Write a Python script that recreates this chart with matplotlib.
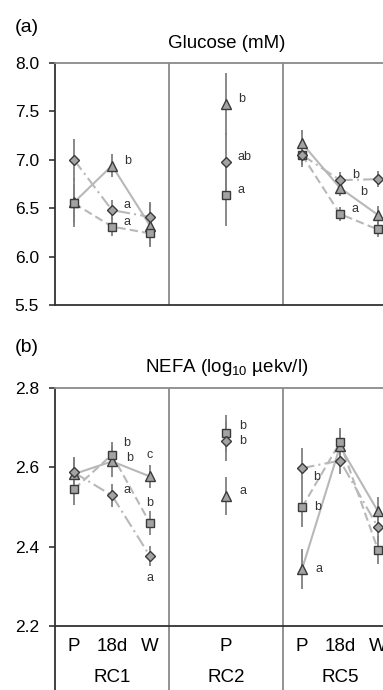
import numpy as np
import matplotlib.pyplot as plt
import matplotlib.transforms as mtransforms

plt.rcParams["font.family"] = ["Liberation Sans", "DejaVu Sans"]
plt.rcParams["mathtext.fontset"] = "custom"
plt.rcParams["mathtext.rm"] = "Liberation Sans"
plt.rcParams["mathtext.it"] = "Liberation Sans"

# positions: RC1 P,18d,W | RC2 P | RC5 P,18d,W
time_labels = ["P", "18d", "W", "P", "P", "18d", "W"]
group_labels = ["RC1", "RC2", "RC5"]

# Glucose (mM)
glu_tri = [6.56, 6.94, 6.32, 7.58, 7.17, 6.71, 6.43]
glu_tri_err = [0.25, 0.12, 0.22, 0.32, 0.14, 0.08, 0.09]
glu_sq = [6.55, 6.31, 6.24, 6.64, 7.05, 6.44, 6.28]
glu_sq_err = [0.20, 0.10, 0.13, 0.32, 0.12, 0.07, 0.08]
glu_dia = [7.00, 6.48, 6.41, 6.98, 7.05, 6.79, 6.80]
glu_dia_err = [0.22, 0.10, 0.15, 0.30, 0.10, 0.08, 0.08]
glu_tri_let = ["", "b", "", "b", "", "b", "a"]
glu_sq_let = ["", "a", "", "a", "", "a", "a"]
glu_dia_let = ["", "a", "", "ab", "", "b", "b"]

# NEFA (log10 uekv/l)
nefa_tri = [2.583, 2.615, 2.577, 2.528, 2.343, 2.653, 2.489]
nefa_tri_err = [0.04, 0.04, 0.028, 0.048, 0.05, 0.04, 0.035]
nefa_sq = [2.545, 2.632, 2.459, 2.686, 2.499, 2.663, 2.392]
nefa_sq_err = [0.04, 0.032, 0.03, 0.047, 0.05, 0.035, 0.035]
nefa_dia = [2.587, 2.529, 2.376, 2.667, 2.598, 2.617, 2.449]
nefa_dia_err = [0.04, 0.03, 0.025, 0.05, 0.05, 0.035, 0.035]
nefa_tri_let = ["", "b", "c", "a", "a", "", ""]
nefa_sq_let = ["", "b", "b", "b", "b", "", ""]
nefa_dia_let = ["", "a", "a", "b", "b", "", ""]

xpos = np.array([0.5, 1.5, 2.5, 4.5, 6.5, 7.5, 8.5])
groups = [[0, 1, 2], [3], [4, 5, 6]]

LINE = "#b8b8b8"
ERR = "#808080"
FILL = "#a3a3a3"
EDGE = "#3a3a3a"
SEP = "#8a8a8a"

W, H = 383, 690
fig = plt.figure(figsize=(W / 100, H / 100), dpi=100)


def px_axes(left, top, right, bottom):
    return fig.add_axes([left / W, 1 - bottom / H, (right - left) / W, (bottom - top) / H])


def draw_series(ax, vals, errs, letters, marker, ms, ls, offsets):
    vals = np.array(vals)
    for g in groups:
        if len(g) > 1:
            ax.plot(xpos[g], vals[g], color=LINE, lw=1.5, ls=ls, zorder=2)
    ax.errorbar(xpos, vals, yerr=errs, fmt="none", ecolor=ERR, elinewidth=1.3, zorder=3)
    ax.plot(xpos, vals, ls="none", marker=marker, ms=ms, mfc=FILL, mec=EDGE, mew=1.0, zorder=4)
    for i, t in enumerate(letters):
        if t:
            dx, dy = offsets.get(i, (12, 5))
            ax.annotate(t, (xpos[i], vals[i]), xytext=(dx, dy), textcoords="offset pixels",
                        fontsize=9, ha="left" if dx > 3 else "center", va="center",
                        color="#333333", annotation_clip=False)


def style_axes(ax, ylim, yticks):
    ax.set_xlim(0, 9)
    ax.set_ylim(*ylim)
    ax.set_yticks(yticks)
    ax.set_yticklabels(["%.1f" % v for v in yticks], fontsize=12.5)
    ax.set_xticks([])
    ax.tick_params(axis="y", direction="out", length=4.5, width=1.2, color="#333333", pad=7)
    ax.spines["left"].set_color("#333333")
    ax.spines["left"].set_linewidth(1.3)
    ax.spines["bottom"].set_color("#333333")
    ax.spines["bottom"].set_linewidth(1.3)
    ax.spines["top"].set_color(SEP)
    ax.spines["top"].set_linewidth(1.3)
    ax.spines["right"].set_visible(False)
    for xs in (3, 6):
        ax.axvline(xs, color=SEP, lw=1.3, zorder=1)


# (a) Glucose
ax1 = px_axes(55, 63, 397, 305)
style_axes(ax1, (5.5, 8.0), [5.5, 6.0, 6.5, 7.0, 7.5, 8.0])
draw_series(ax1, glu_tri, glu_tri_err, glu_tri_let, "^", 7.5, "-", {5: (20, -4)})
draw_series(ax1, glu_sq, glu_sq_err, glu_sq_let, "s", 5.5, (0, (4, 2)), {})
draw_series(ax1, glu_dia, glu_dia_err, glu_dia_let, "D", 5, (0, (6, 2, 1, 2)), {})
fig.text(227 / W, 1 - 43 / H, "Glucose (mM)", ha="center", va="center", fontsize=13.5)
fig.text(15 / W, 1 - 27 / H, "(a)", ha="left", va="center", fontsize=14)

# (b) NEFA
ax2 = px_axes(55, 388, 397, 626)
style_axes(ax2, (2.2, 2.8), [2.2, 2.4, 2.6, 2.8])
draw_series(ax2, nefa_tri, nefa_tri_err, nefa_tri_let, "^", 7.5, "-",
            {1: (14, 3), 2: (0, 21), 3: (13, 5), 4: (14, 0)})
draw_series(ax2, nefa_sq, nefa_sq_err, nefa_sq_let, "s", 5.5, (0, (4, 2)),
            {1: (11, 12), 2: (0, 20), 3: (13, 7), 4: (12, 0)})
draw_series(ax2, nefa_dia, nefa_dia_err, nefa_dia_let, "D", 5, (0, (6, 2, 1, 2)),
            {1: (12, 5), 2: (0, -22), 3: (13, 0), 4: (11, -9)})
fig.text(227 / W, 1 - 368 / H, r"NEFA (log$_{10}$ µekv/l)", ha="center", va="center", fontsize=13.5)
fig.text(15 / W, 1 - 348 / H, "(b)", ha="left", va="center", fontsize=14)

# category labels under panel b, with separators running down
trans = mtransforms.blended_transform_factory(ax2.transData, ax2.transAxes)
for xs, c in [(0, "#333333"), (3, SEP), (6, SEP)]:
    ax2.plot([xs, xs], [0, -0.27], color=c, lw=1.3, transform=trans, clip_on=False)
for x, t in zip(xpos, time_labels):
    ax2.text(x, -0.088, t, transform=trans, ha="center", va="center", fontsize=13.5)
for g, t in zip(groups, group_labels):
    ax2.text(xpos[g].mean(), -0.215, t, transform=trans, ha="center", va="center", fontsize=13.5)

fig.savefig("out.png", dpi=100)
